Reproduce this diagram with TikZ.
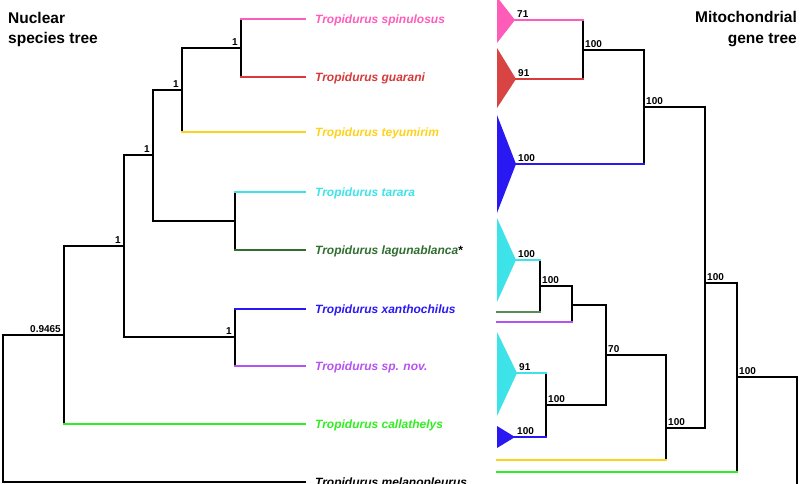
\documentclass[tikz,border=0pt]{standalone}
\usepackage{fontspec}
\setmainfont{Liberation Sans}
\usepackage{xcolor}
\definecolor{cSpin}{HTML}{FF5CBA}
\definecolor{cGuar}{HTML}{D63A3A}
\definecolor{cTey}{HTML}{FFD21A}
\definecolor{cTar}{HTML}{3EE3EA}
\definecolor{cLag}{HTML}{2F6E2F}
\definecolor{cXan}{HTML}{2A18F2}
\definecolor{cSpn}{HTML}{B652F0}
\definecolor{cCal}{HTML}{30EE20}
\newcommand{\tropi}[1]{Tropidurus #1}

\tikzset{
  branch/.style={line width=1.8pt, line cap=rect},
  taxon/.style={anchor=base west, inner sep=0pt, font=\bfseries\itshape\fontsize{12}{14}\selectfont},
  supp/.style={inner sep=0pt, font=\bfseries\fontsize{10}{12}\selectfont},
  suppL/.style={supp, anchor=base east, xshift=-3pt, yshift=3pt},
  suppR/.style={supp, anchor=base west, xshift=2pt, yshift=3pt},
  title/.style={inner sep=0pt, font=\bfseries\fontsize{15.5}{18}\selectfont}
}

\begin{document}
\begin{tikzpicture}[x=1pt, y=-1pt]
\useasboundingbox (0,0) rectangle (800,483);

% Titles
\node[title, anchor=base west] (tN1) at (8,23) {Nuclear};
\node[title, anchor=base west] (tN2) at (8,43) {species tree};
\node[title, anchor=base east] (tM1) at (797,22) {Mitochondrial};
\node[title, anchor=base east] (tM2) at (797,43) {gene tree};

% Nuclear species tree: leaf ends
\coordinate (eSpin) at (305,19);
\coordinate (eGuar) at (305,77);
\coordinate (eTey) at (305,132);
\coordinate (eTar) at (305,192);
\coordinate (eLag) at (305,250);
\coordinate (eXan) at (305,309);
\coordinate (eSpn) at (305,366);
\coordinate (eCal) at (305,424);
\coordinate (eMel) at (305,482);
% inner nodes
\coordinate (nA) at (241,48);
\coordinate (nB) at (182,90);
\coordinate (nC) at (235,221);
\coordinate (nD) at (153,155);
\coordinate (nE) at (235,337);
\coordinate (nF) at (124,246);
\coordinate (nG) at (64,335);
\coordinate (nR) at (3,408);

% taxa
\node[taxon, text=cSpin] (tSpin) at ([xshift=10pt, yshift=-4.3pt]eSpin) {\tropi{spinulosus}};
\node[taxon, text=cGuar] (tGuar) at ([xshift=10pt, yshift=-4.3pt]eGuar) {\tropi{guarani}};
\node[taxon, text=cTey] (tTey) at ([xshift=10pt, yshift=-4.3pt]eTey) {\tropi{teyumirim}};
\node[taxon, text=cTar] (tTar) at ([xshift=10pt, yshift=-4.3pt]eTar) {\tropi{tarara}};
\node[taxon, text=cLag] (tLag) at ([xshift=10pt, yshift=-4.3pt]eLag) {\tropi{lagunablanca}{\color{black}\upshape*}};
\node[taxon, text=cXan] (tXan) at ([xshift=10pt, yshift=-4.3pt]eXan) {\tropi{xanthochilus}};
\node[taxon, text=cSpn] (tSpn) at ([xshift=10pt, yshift=-4.3pt]eSpn) {\tropi{sp. nov.}};
\node[taxon, text=cCal] (tCal) at ([xshift=10pt, yshift=-4.3pt]eCal) {\tropi{callathelys}};
\node[taxon, text=black] (tMel) at ([xshift=10pt, yshift=-4.3pt]eMel) {\tropi{melanopleurus}};

% branches
\draw[branch] (nA |- eSpin) -- (nA |- eGuar);
\draw[branch, cSpin] (nA |- eSpin) -- (eSpin);
\draw[branch, cGuar] (nA |- eGuar) -- (eGuar);
\draw[branch] (nA) -| (nB |- eTey);
\draw[branch, cTey] (nB |- eTey) -- (eTey);
\draw[branch] (nC |- eTar) -- (nC |- eLag);
\draw[branch, cTar] (nC |- eTar) -- (eTar);
\draw[branch, cLag] (nC |- eLag) -- (eLag);
\draw[branch] (nB) -| (nD) |- (nC);
\draw[branch] (nE |- eXan) -- (nE |- eSpn);
\draw[branch, cXan] (nE |- eXan) -- (eXan);
\draw[branch, cSpn] (nE |- eSpn) -- (eSpn);
\draw[branch] (nD) -| (nF) |- (nE);
\draw[branch] (nF) -| (nG |- eCal);
\draw[branch, cCal] (nG |- eCal) -- (eCal);
\draw[branch] (nG) -| (nR |- eMel) -- (eMel);

% posterior probabilities
\node[suppL] (sA) at (nA) {1};
\node[suppL] (sB) at (nB) {1};
\node[suppL] (sD) at (nD) {1};
\node[suppL] (sE) at (nE) {1};
\node[suppL] (sF) at (nF) {1};
\node[suppL] (sG) at (nG) {0.9465};

% Mitochondrial gene tree: collapsed clades
\fill[cSpin] (497,-3) -- (515,20) -- (497,43) -- cycle;
\fill[cGuar!95!white] (497,48) -- (516,79) -- (497,108) -- cycle;
\fill[cXan] (497,115) -- (516,164) -- (497,213) -- cycle;
\fill[cTar] (497,218) -- (516,260) -- (497,302) -- cycle;
\fill[cTar] (497,332) -- (517,373) -- (497,416) -- cycle;
\fill[cXan] (497,426) -- (515,437) -- (497,448) -- cycle;
\coordinate (aSpin) at (515,20);
\coordinate (aGuar) at (516,79);
\coordinate (aXan) at (516,164);
\coordinate (aTar) at (516,260);
\coordinate (aTar2) at (517,373);
\coordinate (aXan2) at (515,437);
\coordinate (rLag) at (497,312);
\coordinate (rSpn) at (497,322);
\coordinate (rTey) at (497,460);
\coordinate (rCal) at (497,472);
% inner nodes
\coordinate (m1) at (583,50);
\coordinate (m2) at (644,107);
\coordinate (m3) at (540,286);
\coordinate (m4) at (572,305);
\coordinate (m5) at (546,405);
\coordinate (m6) at (606,355);
\coordinate (m7) at (666,428);
\coordinate (m8) at (705,283);
\coordinate (m9) at (737,377);
\coordinate (mR) at (797,495);

% branches
\draw[branch] (m1 |- aSpin) -- (m1 |- aGuar);
\draw[branch, cSpin] (aSpin) -- (m1 |- aSpin);
\draw[branch, cGuar] (aGuar) -- (m1 |- aGuar);
\draw[branch] (m1) -| (m2 |- aXan);
\draw[branch, cXan] (aXan) -- (m2 |- aXan);
\draw[branch] (m3 |- aTar) -- (m3 |- rLag);
\draw[branch, cTar] (aTar) -- (m3 |- aTar);
\draw[branch, cLag!80!white] (rLag) -- (m3 |- rLag);
\draw[branch] (m3) -| (m4 |- rSpn);
\draw[branch, cSpn] (rSpn) -- (m4 |- rSpn);
\draw[branch] (m5 |- aTar2) -- (m5 |- aXan2);
\draw[branch, cTar] (aTar2) -- (m5 |- aTar2);
\draw[branch, cXan] (aXan2) -- (m5 |- aXan2);
\draw[branch] (m4) -| (m6) |- (m5);
\draw[branch] (m6) -| (m7 |- rTey);
\draw[branch, cTey] (rTey) -- (m7 |- rTey);
\draw[branch] (m2) -| (m8) |- (m7);
\draw[branch] (m8) -| (m9 |- rCal);
\draw[branch, cCal] (rCal) -- (m9 |- rCal);
\draw[branch] (m9) -| (mR);

% bootstrap values
\node[suppR] (bSpin) at (aSpin) {71};
\node[suppR] (bGuar) at (aGuar) {91};
\node[suppR] (bXan) at (aXan) {100};
\node[suppR] (bTar) at (aTar) {100};
\node[suppR] (bTar2) at (aTar2) {91};
\node[suppR] (bXan2) at (aXan2) {100};
\node[suppR] (b1) at (m1) {100};
\node[suppR] (b2) at (m2) {100};
\node[suppR] (b3) at (m3) {100};
\node[suppR] (b5) at (m5) {100};
\node[suppR] (b6) at (m6) {70};
\node[suppR] (b7) at (m7) {100};
\node[suppR] (b8) at (m8) {100};
\node[suppR] (b9) at (m9) {100};
\end{tikzpicture}
\end{document}
